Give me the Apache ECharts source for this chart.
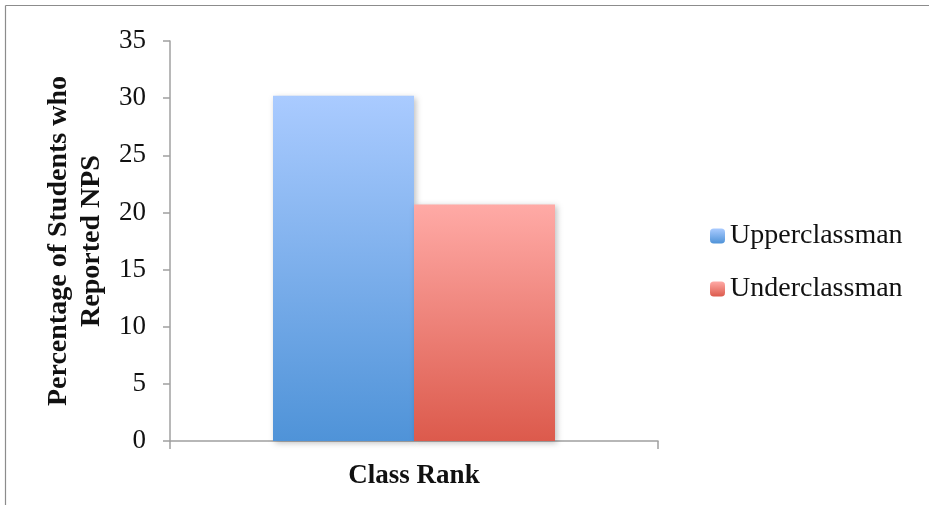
<!DOCTYPE html>
<html><head><meta charset="utf-8">
<script src="https://cdn.jsdelivr.net/npm/echarts@6/dist/echarts.min.js"></script>
<style>html,body{margin:0;padding:0;background:#fff}#c{width:929px;height:505px}</style>
</head><body><div id="c"></div>
<script>
const categories = ['Class Rank'];
const seriesNames = ['Upperclassman', 'Underclassman'];
const upperValues = [30.2];
const underValues = [20.7];
const yTicks = [0, 5, 10, 15, 20, 25, 30, 35];

const font = 'Liberation Serif';
function grad(top, bottom) {
  return new echarts.graphic.LinearGradient(0, 0, 0, 1, [{offset: 0, color: top}, {offset: 1, color: bottom}]);
}
const chart = echarts.init(document.getElementById('c'), null, {renderer: 'canvas'});
chart.setOption({
  animation: false,
  backgroundColor: '#fff',
  graphic: [
    {type: 'line', shape: {x1: 5.5, y1: 5.5, x2: 929, y2: 5.5}, style: {stroke: '#8c8c8c', lineWidth: 1.2}, silent: true},
    {type: 'line', shape: {x1: 5.5, y1: 5.5, x2: 5.5, y2: 505}, style: {stroke: '#8c8c8c', lineWidth: 1.2}, silent: true}
  ],
  grid: {left: 170, right: 271, top: 41, bottom: 64},
  legend: {
    orient: 'vertical', left: 705, top: 217, itemGap: 25, itemWidth: 15, itemHeight: 15,
    textStyle: {fontFamily: font, fontSize: 28, color: '#111', lineHeight: 28},
    data: seriesNames
  },
  xAxis: {
    type: 'category', data: categories,
    name: 'Class Rank', nameLocation: 'middle', nameGap: 22,
    nameTextStyle: {fontFamily: font, fontSize: 27, fontWeight: 'bold', color: '#111'},
    axisLine: {lineStyle: {color: '#a0a0a0', width: 1.5}},
    axisTick: {show: true, length: 8, lineStyle: {color: '#a0a0a0', width: 1.5}},
    axisLabel: {show: false}
  },
  yAxis: {
    type: 'value', min: 0, max: 35, interval: 5,
    name: 'Percentage of Students who\nReported NPS', nameLocation: 'middle', nameGap: 54,
    nameTextStyle: {fontFamily: font, fontSize: 28, fontWeight: 'bold', color: '#111', lineHeight: 33},
    axisLine: {show: true, lineStyle: {color: '#a0a0a0', width: 1.5}},
    axisTick: {show: true, length: 7, lineStyle: {color: '#a0a0a0', width: 1.5}},
    axisLabel: {fontFamily: font, fontSize: 27, color: '#111', margin: 24,
      formatter: v => yTicks.includes(v) ? String(v) : ''},
    splitLine: {show: false}
  },
  series: [
    {name: seriesNames[0], type: 'bar', data: upperValues, barWidth: 141, barGap: '0%',
     itemStyle: {color: grad('#aacbff', '#4f93d8'), shadowColor: 'rgba(0,0,0,0.25)', shadowBlur: 6, shadowOffsetX: 2, shadowOffsetY: 2}},
    {name: seriesNames[1], type: 'bar', data: underValues, barWidth: 141, barGap: '0%',
     itemStyle: {color: grad('#ffaaa6', '#dc5a4c'), shadowColor: 'rgba(0,0,0,0.25)', shadowBlur: 6, shadowOffsetX: 2, shadowOffsetY: 2}}
  ]
});
</script></body></html>
